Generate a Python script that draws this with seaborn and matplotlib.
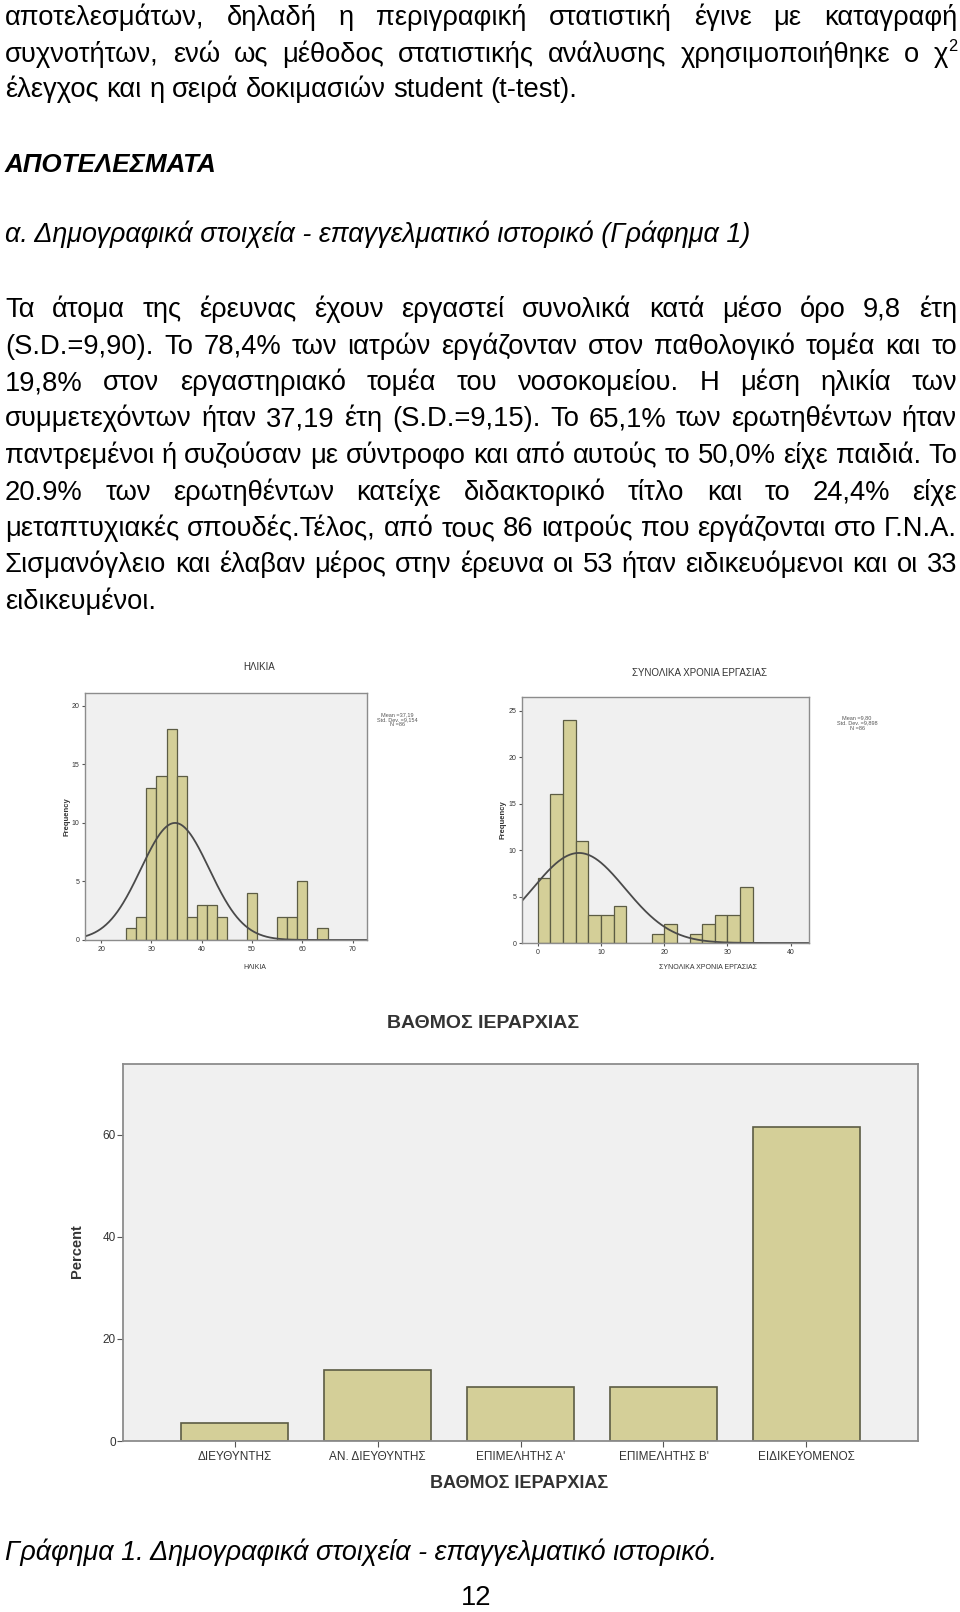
import numpy as np
import pandas as pd
import matplotlib
matplotlib.use("Agg")
import matplotlib.pyplot as plt
import seaborn as sns

W, H = 960, 1612

# ---------------- data ----------------
age_bin_left = [25, 27, 29, 31, 33, 35, 37, 39, 41, 43, 45, 47, 49, 51, 53, 55, 57, 59, 61, 63]
age_counts = [1, 2, 13, 14, 18, 14, 2, 3, 3, 2, 0, 0, 4, 0, 0, 2, 2, 5, 0, 1]
age_xticks = [20, 30, 40, 50, 60, 70]
age_yticks = [0, 5, 10, 15, 20]
age_curve_mean, age_curve_sd, age_curve_peak = 34.7, 6.8, 10.0

years_bin_left = [0, 2, 4, 6, 8, 10, 12, 14, 16, 18, 20, 22, 24, 26, 28, 30, 32]
years_counts = [7, 16, 24, 11, 3, 3, 4, 0, 0, 1, 2, 0, 1, 2, 3, 3, 6]
years_xticks = [0, 10, 20, 30, 40]
years_yticks = [0, 5, 10, 15, 20, 25]
years_curve_mean, years_curve_sd, years_curve_peak = 6.5, 7.3, 9.7

rank_labels = ["ΔΙΕΥΘΥΝΤΗΣ", "ΑΝ. ΔΙΕΥΘΥΝΤΗΣ", "ΕΠΙΜΕΛΗΤΗΣ Α'", "ΕΠΙΜΕΛΗΤΗΣ Β'", "ΕΙΔΙΚΕΥΟΜΕΝΟΣ"]
rank_percent = [3.5, 14.0, 10.5, 10.5, 61.6]
rank_yticks = [0, 20, 40, 60]

intro_lines = [
    "αποτελεσμάτων, δηλαδή η περιγραφική στατιστική έγινε με καταγραφή",
    "συχνοτήτων, ενώ ως μέθοδος στατιστικής ανάλυσης χρησιμοποιήθηκε ο χ^2",
    "έλεγχος και η σειρά δοκιμασιών student (t-test).",
]
heading = "ΑΠΟΤΕΛΕΣΜΑΤΑ"
subheading = "α. Δημογραφικά στοιχεία - επαγγελματικό ιστορικό (Γράφημα 1)"
para_lines = [
    "Τα άτομα της έρευνας έχουν εργαστεί συνολικά κατά μέσο όρο 9,8 έτη",
    "(S.D.=9,90). Το 78,4% των ιατρών εργάζονταν στον παθολογικό τομέα και το",
    "19,8% στον εργαστηριακό τομέα του νοσοκομείου. Η μέση ηλικία των",
    "συμμετεχόντων ήταν 37,19 έτη (S.D.=9,15). Το 65,1% των ερωτηθέντων ήταν",
    "παντρεμένοι ή συζούσαν με σύντροφο και από αυτούς το 50,0% είχε  παιδιά. Το",
    "20.9% των ερωτηθέντων κατείχε διδακτορικό τίτλο και το 24,4% είχε",
    "μεταπτυχιακές σπουδές.Τέλος, από τους 86 ιατρούς που εργάζονται στο Γ.Ν.Α.",
    "Σισμανόγλειο και έλαβαν μέρος στην έρευνα οι 53 ήταν ειδικευόμενοι και οι 33",
    "ειδικευμένοι.",
]
caption = "Γράφημα 1. Δημογραφικά στοιχεία - επαγγελματικό ιστορικό."
page_no = "12"
age_title = "ΗΛΙΚΙΑ"
years_title = "ΣΥΝΟΛΙΚΑ ΧΡΟΝΙΑ ΕΡΓΑΣΙΑΣ"
rank_title = "ΒΑΘΜΟΣ ΙΕΡΑΡΧΙΑΣ"
age_stats = "Mean =37,19\nStd. Dev. =9,154\nN =86"
years_stats = "Mean =9,80\nStd. Dev. =9,898\nN =86"

# ---------------- style ----------------
sns.set_theme(style="white")
BODY = ["Liberation Sans Narrow", "Liberation Sans", "DejaVu Sans"]
CHART = ["Liberation Sans", "DejaVu Sans"]
plt.rcParams["font.family"] = BODY

FILL = "#d4cf98"
EDGE = "#5c5c44"
PANEL = "#f0f0f0"
FRAME = "#8c8c8c"
CURVE = "#4a4a4a"
TXT = "#333333"

fig = plt.figure(figsize=(W / 100, H / 100), dpi=100)
fig.patch.set_facecolor("white")
renderer = fig.canvas.get_renderer()


def tw(s, **kw):
    t = fig.text(0, 0, s, **kw)
    w = t.get_window_extent(renderer=renderer).width
    t.remove()
    return w


def place(s, x, y, **kw):
    kw.setdefault("ha", "left")
    kw.setdefault("va", "baseline")
    return fig.text(x / W, 1 - y / H, s, **kw)


def fit_size(s, target, **kw):
    return 20 * target / tw(s, fontsize=20, **kw)


def draw_line(text, y, size, x0=5, x1=None, **kw):
    toks = text.split()
    parts = []
    for tok in toks:
        if "^" in tok:
            b, s = tok.split("^")
            parts.append((tok, tw(b, fontsize=size, **kw) + tw(s, fontsize=size * 0.6, **kw)))
        else:
            parts.append((tok, tw(tok, fontsize=size, **kw)))
    total = sum(w for _, w in parts)
    if x1 is None or len(parts) < 2:
        gap = tw("a a", fontsize=size, **kw) - tw("aa", fontsize=size, **kw)
    else:
        gap = (x1 - x0 - total) / (len(parts) - 1)
    x = x0
    for tok, w in parts:
        if "^" in tok:
            b, s = tok.split("^")
            wb = tw(b, fontsize=size, **kw)
            place(b, x, y, fontsize=size, color="black", **kw)
            place(s, x + wb, y - size * 0.55, fontsize=size * 0.6, color="black", **kw)
        else:
            place(tok, x, y, fontsize=size, color="black", **kw)
        x += w + gap


# ---------------- body text ----------------
body_size = fit_size(intro_lines[2], 550, family=BODY) * 1.04
intro_y = [25, 62, 97]
for i, (ln, yy) in enumerate(zip(intro_lines, intro_y)):
    draw_line(ln, yy, body_size, x1=957 if i < 2 else None, family=BODY)

head_size = fit_size(heading, 212, family=BODY, fontweight="bold", fontstyle="italic")
place(heading, 5, 172, fontsize=head_size, family=BODY, fontweight="bold", fontstyle="italic", color="black")
sub_size = fit_size(subheading, 743, family=BODY, fontstyle="italic")
place(subheading, 5, 242, fontsize=sub_size, family=BODY, fontstyle="italic", color="black")

para_y0, para_dy = 317, 36.5
for i, ln in enumerate(para_lines):
    last = i == len(para_lines) - 1
    draw_line(ln, para_y0 + i * para_dy, body_size, x1=None if last else 957, family=BODY)

cap_size = fit_size(caption, 711, family=BODY, fontstyle="italic")
place(caption, 5, 1560, fontsize=cap_size, family=BODY, fontstyle="italic", color="black")
place(page_no, 476, 1605, fontsize=body_size, family=BODY, ha="center", color="black")


# ---------------- charts ----------------
def px_axes(l, t, r, b):
    return fig.add_axes([l / W, 1 - b / H, (r - l) / W, (b - t) / H])


def style_axes(ax, lsize, tick_len, frame_lw=1.0):
    ax.set_facecolor(PANEL)
    for sp in ax.spines.values():
        sp.set_visible(True)
        sp.set_color(FRAME)
        sp.set_linewidth(frame_lw)
    ax.tick_params(bottom=True, left=True, length=tick_len, width=0.8, color="#555555",
                   labelsize=lsize, labelcolor=TXT, pad=1.5)
    for lab in ax.get_xticklabels() + ax.get_yticklabels():
        lab.set_family(CHART)
    ax.set_xlabel("")
    ax.set_ylabel("")
    ax.grid(False)


def hist_panel(rect, bin_left, counts, xlim, ylim, xticks, yticks, cm, csd, cpk):
    ax = px_axes(*rect)
    edges = bin_left + [bin_left[-1] + 2]
    centers = [b + 1 for b in bin_left]
    sns.histplot(x=centers, weights=counts, bins=edges, ax=ax, color=FILL,
                 edgecolor=EDGE, linewidth=0.9, alpha=1.0)
    xs = np.linspace(xlim[0], xlim[1], 400)
    ys = cpk * np.exp(-0.5 * ((xs - cm) / csd) ** 2)
    sns.lineplot(x=xs, y=ys, ax=ax, color=CURVE, linewidth=1.3, estimator=None)
    ax.set_xlim(*xlim)
    ax.set_ylim(*ylim)
    ax.set_xticks(xticks)
    ax.set_yticks(yticks)
    style_axes(ax, 5, 2.5)
    return ax


hist_panel((85, 693, 367, 940), age_bin_left, age_counts, (16.8, 72.85), (0, 21.1),
           age_xticks, age_yticks, age_curve_mean, age_curve_sd, age_curve_peak)
hist_panel((522, 697, 809, 943), years_bin_left, years_counts, (-2.5, 42.9), (0, 26.5),
           years_xticks, years_yticks, years_curve_mean, years_curve_sd, years_curve_peak)

place(age_title, 259, 670, fontsize=7, family=CHART, ha="center", color=TXT)
place(years_title, 700, 676, fontsize=7, family=CHART, ha="center", color=TXT)
place(age_title, 255, 969, fontsize=5, family=CHART, ha="center", color=TXT)
place(years_title, 708, 969, fontsize=5, family=CHART, ha="center", color=TXT)
place("Frequency", 67, 817, fontsize=5.5, family=CHART, fontweight="bold", rotation=90,
      ha="center", va="center", color=TXT)
place("Frequency", 503, 820, fontsize=5.5, family=CHART, fontweight="bold", rotation=90,
      ha="center", va="center", color=TXT)
place(age_stats, 397, 720, fontsize=4, family=CHART, ha="center", va="center",
      multialignment="center", color="#555555", linespacing=1.0)
place(years_stats, 857, 723, fontsize=4, family=CHART, ha="center", va="center",
      multialignment="center", color="#555555", linespacing=1.0)

# bar chart
ax3 = px_axes(123, 1064, 918, 1441)
df = pd.DataFrame({"rank": rank_labels, "percent": rank_percent})
sns.barplot(data=df, x="rank", y="percent", color=FILL, edgecolor=EDGE, linewidth=1.2,
            width=0.75, saturation=1, ax=ax3)
ax3.set_xlim(-0.78, 4.78)
ax3.set_ylim(0, 73.9)
ax3.set_yticks(rank_yticks)
style_axes(ax3, 8.5, 4, frame_lw=1.3)
ax3.tick_params(axis="x", pad=3)
ax3.tick_params(axis="y", pad=1)

place(rank_title, 483, 1028, fontsize=14, family=CHART, fontweight="bold", ha="center", color=TXT)
place(rank_title, 519, 1488, fontsize=13, family=CHART, fontweight="bold", ha="center", color=TXT)
place("Percent", 77, 1251, fontsize=10.5, family=CHART, fontweight="bold", rotation=90,
      ha="center", va="center", color=TXT)

fig.savefig("out.png", dpi=100, facecolor="white")
